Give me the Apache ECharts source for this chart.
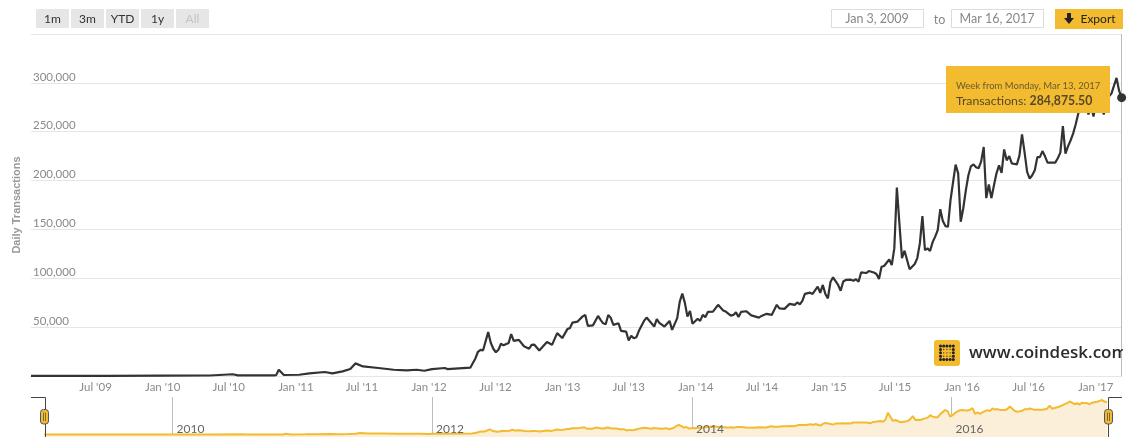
<!DOCTYPE html>
<html>
<head>
<meta charset="utf-8">
<style>html,body{margin:0;padding:0;background:#fff}#c{width:1131px;height:437px}</style>
<script src="https://cdn.jsdelivr.net/npm/echarts@6/dist/echarts.min.js"></script>
</head>
<body>
<div id="c"></div>
<script>
// weeks counted from Monday Jan 5 2009
const weekIndex = [0,30,52,70,79,81,95,96,97,99,105,109,115,118,122,125,127,130,136,142,147,151,154,157,162,163,172,173,174,175,176,177,179,180,181,182,183,184,185,187,188,189,191,193,195,196,197,199,202,204,206,208,210,211,212,214,216,217,218,220,222,223,224,225,226,227,228,230,231,233,234,235,236,237,238,240,241,244,245,246,248,250,251,253,254,255,256,257,258,259,261,262,263,264,265,267,269,271,272,274,275,276,277,278,280,282,285,286,288,290,292,293,295,297,298,299,300,301,302,303,305,306,308,309,310,311,312,313,314,316,317,318,319,321,322,323,324,325,327,328,330,331,332,333,334,336,337,338,339,340,341,342,344,346,347,348,349,350,351,352,353,354,355,356,357,358,359,360,361,362,363,364,365,366,367,368,369,370,371,372,373,374,375,376,377,378,379,380,381,382,383,384,385,386,387,388,389,390,391,392,393,394,395,396,397,398,399,401,402,403,404,405,406,407,408,409,410,411,412,413,414,415,416,417,418,419,420,421,422,423,425,426,427];
// daily transactions, in thousands
const txThousands = [0.1,0.12,0.3,0.5,1.8,0.7,0.7,0.9,6.4,1,1.3,2.7,4.1,2.7,4.7,7.1,12.9,9.8,8.2,6.4,5.7,6.4,5.4,7.1,8.2,7.1,8.5,13.3,18,24.8,26.8,26.3,44.9,34,27.9,24.3,26.8,33,31.4,33.7,42.9,36,37,30.4,27.9,31.9,32.2,26.1,34.7,31.9,43.9,38.8,48,49,54.7,55.7,61,62.5,51.3,51.8,61.5,57.4,53.9,53,62.5,59.5,52.3,54,46.2,45.5,36.3,41.1,38.6,39.6,46.2,56.4,59.8,50.6,58.2,54.4,50.6,56.4,47.2,59.2,76.1,84.3,74.8,60.8,66.6,53.4,58.5,56.4,62.5,60.2,65.6,65.9,72.8,67.1,65.9,61.8,62.5,65.1,60.5,65.6,66.3,62,59.8,61.5,63.6,62.5,72.8,69.2,68.7,73.8,73.3,72.8,75.3,73.3,76.8,84,85.3,84,91.4,85,93.2,84,79.4,96.2,101,93.2,87.3,96.7,98.3,98.6,97.5,99,96.5,106,105.4,107.4,105.9,104.4,99.3,111.8,112.6,119.2,113.6,130.6,192.9,156,120.7,128.2,109.2,114.6,120.7,135.7,163.6,128.9,130.6,127.9,137,142.6,149.3,170.7,158.5,153.4,152.7,180,198.3,216.3,207.4,157.8,171.7,190,205.4,214.6,216.6,213.6,212.5,219.7,234.3,182,196,182,195,207.4,215.6,207.8,231.9,220.7,225,217.6,217,216.6,225.8,247.2,228.9,208.8,202,205.4,210.5,224,224,230.2,224.8,218.4,218.4,218.4,222.8,228.6,255.7,227.5,235,241,248,257.4,268.4,276.8,292,282,267.6,276.8,265.6,282,277.9,277.9,267.6,282,286,289,305.1,292,284.8755];
const xTickDates = ['2009-07-01','2010-01-01','2010-07-01','2011-01-01','2011-07-01','2012-01-01','2012-07-01','2013-01-01','2013-07-01','2014-01-01','2014-07-01','2015-01-01','2015-07-01','2016-01-01','2016-07-01','2017-01-01'];
const xTickLabels = ["Jul '09","Jan '10","Jul '10","Jan '11","Jul '11","Jan '12","Jul '12","Jan '13","Jul '13","Jan '14","Jul '14","Jan '15","Jul '15","Jan '16","Jul '16","Jan '17"];
const navYears = ['2010','2012','2014','2016'];
const yTicks = [50000,100000,150000,200000,250000,300000];
const rangeButtons = ['1m','3m','YTD','1y','All'];

const DAY = 86400000;
const week0 = Date.UTC(2009,0,5);
const seriesData = weekIndex.map((w,i)=>[week0+w*7*DAY, txThousands[i]*1000]);
const last = seriesData[seriesData.length-1];
const tickMs = xTickDates.map(d=>Date.parse(d+'T00:00:00Z'));
const navMs = navYears.map(y=>Date.parse(y+'-01-01T00:00:00Z'));
const xMin = week0, xMax = Date.UTC(2017,2,14);
const navMin = Date.UTC(2009,0,3), navMax = Date.UTC(2017,2,16);
const FONT = 'Lato';
const GOLD = '#f3bb2f';

const g = [];
const txt = (x,y,text,o={}) => g.push({type:'text',x,y,z:100,silent:true,style:Object.assign({text,fontFamily:FONT,fontSize:12,fill:'#333',align:'center',verticalAlign:'middle'},o)});
const rect = (x,y,w,h,o={},r=0) => g.push({type:'rect',z:o.z||99,silent:true,shape:{x,y,width:w,height:h,r},style:Object.assign({fill:'#e6e6e6'},o)});

rangeButtons.forEach((b,i)=>{
  const x = 36+i*35;
  rect(x,9,33,19);
  txt(x+16.5,19,b,{fill:b==='All'?'#c4c4c4':'#333',fontSize:12});
});
rect(831.5,9.5,92,18,{fill:'#fff',stroke:'#dcdcdc',lineWidth:1});
txt(877,18.5,'Jan 3, 2009',{fill:'#888',fontSize:12.5});
txt(939.5,19.5,'to',{fill:'#888',fontSize:12.5});
rect(951.5,9.5,92,18,{fill:'#fff',stroke:'#dcdcdc',lineWidth:1});
txt(997,18.5,'Mar 16, 2017',{fill:'#888',fontSize:12.5});
rect(1055,9,68,20,{fill:GOLD});
g.push({type:'polygon',z:100,silent:true,shape:{points:[[1067,13],[1071,13],[1071,18],[1074,18],[1069,24],[1064,18],[1067,18]]},style:{fill:'#222'}});
txt(1098,19.5,'Export',{fill:'#222',fontSize:12});

// coindesk logo
rect(934,340,26,26,{fill:GOLD},3);
for(let r=0;r<5;r++)for(let c=0;c<5;c++){
  const inner = r>0&&r<4&&c>0&&c<4;
  g.push({type:'circle',z:100,silent:true,shape:{cx:940.5+c*3.2,cy:346+r*3.4,r:inner?0.6:1.5},style:{fill:'#222'}});
}
txt(969,353.5,'www.coindesk.com',{align:'left',fontSize:17,fontWeight:600,fill:'#2b2b2b',fontFamily:'Open Sans'});
rect(1123,340,8,30,{fill:'#fff',z:101});

// tooltip
rect(946,66,164,47,{fill:GOLD,z:98});
txt(956,86,'Week from Monday, Mar 13, 2017',{align:'left',fontSize:9.5,fill:'#6a5a32'});
g.push({type:'text',x:956,y:101.5,z:100,silent:true,style:{
  text:'{a|Transactions: }{b|'+last[1].toLocaleString('en-US',{minimumFractionDigits:2,maximumFractionDigits:2})+'}',
  verticalAlign:'middle',align:'left',
  rich:{a:{fontFamily:FONT,fontSize:12.3,fill:'#57492a'},b:{fontFamily:FONT,fontSize:12.3,fontWeight:'bold',fill:'#57492a'}}}});

// navigator outline and handles
g.push({type:'polyline',z:100,silent:true,shape:{points:[[31,397.5],[45.5,397.5],[45.5,437]]},style:{stroke:'#444',fill:null,lineWidth:1}});
g.push({type:'polyline',z:100,silent:true,shape:{points:[[1108.5,437],[1108.5,397.5],[1122,397.5]]},style:{stroke:'#444',fill:null,lineWidth:1}});
[44.5,1108.5].forEach(cx=>{
  rect(cx-4,409.5,8,14.5,{fill:GOLD,stroke:'#555',lineWidth:1,z:101},3);
  [-1,1].forEach(d=>g.push({type:'line',z:102,silent:true,shape:{x1:cx+d,y1:412.5,x2:cx+d,y2:421},style:{stroke:'#555',lineWidth:0.8}}));
});

const option = {
  animation:false,
  backgroundColor:'#fff',
  textStyle:{fontFamily:FONT},
  grid:[
    {left:31,top:34,width:1091,height:342,containLabel:false},
    {left:43.5,top:397,width:1064.5,height:40}
  ],
  xAxis:[
    {type:'value',gridIndex:0,min:xMin,max:xMax,splitLine:{show:false},
     axisLine:{show:true,onZero:false,lineStyle:{color:'#e6e6e6'}},axisTick:{show:false},
     axisLabel:{customValues:tickMs,margin:5,color:'#8a8a8a',fontSize:11.5,fontFamily:FONT,hideOverlap:false,
       formatter:v=>xTickLabels[tickMs.indexOf(+v)]||''}},
    {type:'value',gridIndex:1,min:navMin,max:navMax,z:0,splitLine:{show:false},axisLine:{show:false,onZero:false},
     axisLabel:{show:false},
     axisTick:{show:true,inside:true,length:40,customValues:navMs,lineStyle:{color:'#bdbdbd',width:1}}},
    {type:'value',gridIndex:1,min:navMin,max:navMax,z:5,position:'bottom',splitLine:{show:false},axisLine:{show:false,onZero:false},axisTick:{show:false},
     axisLabel:{inside:true,margin:2,customValues:navMs,align:'left',padding:[0,0,0,4],color:'#666',fontSize:12,fontFamily:FONT,hideOverlap:false,
       formatter:v=>navYears[navMs.indexOf(+v)]||''}}
  ],
  yAxis:[
    {type:'value',gridIndex:0,min:0,max:350000,interval:50000,
     name:'Daily Transactions',nameLocation:'middle',nameRotate:90,nameGap:8,
     nameTextStyle:{color:'#999',fontSize:11,fontWeight:'bold',fontFamily:'Liberation Sans'},
     axisLine:{show:false},axisTick:{show:false},
     splitLine:{lineStyle:{color:'#e6e6e6',width:1}},
     axisLabel:{inside:true,margin:2,verticalAlign:'bottom',color:'#8a8a8a',fontSize:11.5,fontFamily:FONT,
       formatter:v=>yTicks.includes(v)?v.toLocaleString('en-US'):''}},
    {type:'value',gridIndex:1,min:-22000,max:332000,show:false}
  ],
  series:[
    {type:'line',xAxisIndex:0,yAxisIndex:0,data:seriesData,showSymbol:false,symbol:'none',smooth:false,
     lineStyle:{color:'#333',width:2.2},clip:false,
     markLine:{silent:true,symbol:'none',label:{show:false},lineStyle:{color:'#bbb',width:1,type:'solid'},data:[{xAxis:last[0]}],animation:false},
     markPoint:{silent:true,symbol:'circle',symbolSize:9,itemStyle:{color:'#333'},label:{show:false},data:[{coord:last}],animation:false}},
    {type:'line',xAxisIndex:1,yAxisIndex:1,data:seriesData,showSymbol:false,symbol:'none',
     lineStyle:{color:GOLD,width:2},areaStyle:{color:'#fbefd9',opacity:1,origin:'start'}}
  ],
  graphic:{elements:g}
};
echarts.init(document.getElementById('c'),null,{renderer:'canvas'}).setOption(option);
</script>
</body>
</html>
